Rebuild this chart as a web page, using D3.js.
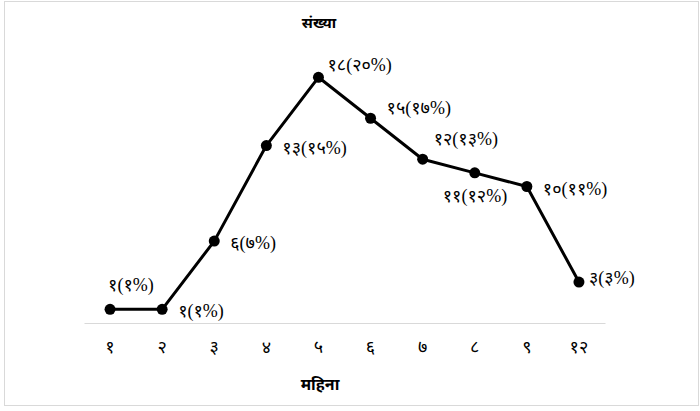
<!DOCTYPE html>
<html>
<head>
<meta charset="utf-8">
<script src="https://cdn.jsdelivr.net/npm/d3@7"></script>
<style>
body{margin:0;background:#fff;}
svg{display:block;}
</style>
</head>
<body>
<svg id="c" width="700" height="411"></svg>
<script>
const months = ["१","२","३","४","५","६","७","८","९","१२"];
const counts = [1,1,6,13,18,15,12,11,10,3];
const labels = ["१(१%)","१(१%)","६(७%)","१३(१५%)","१८(२०%)","१५(१७%)","१२(१३%)","११(१२%)","१०(११%)","३(३%)"];
const yTicks = [0,20];
const title = "संख्या";
const xTitle = "महिना";
// label placement (style config)
const placement = ["above","right","right","right","peak","upright","aboveright","belowleft","right","rightnear"];

const svg = d3.select("#c");
const font = "'Liberation Serif', 'Noto Sans', serif";
const tfont = "'Noto Sans', 'DejaVu Sans', sans-serif";

svg.append("rect").attr("x",4.5).attr("y",1.5).attr("width",694).attr("height",404)
  .attr("fill","#fff").attr("stroke","#d9d9d9").attr("stroke-width",1);

const x = d3.scaleBand().domain(months).range([84,605]);
const y = d3.scaleLinear().domain([yTicks[0], yTicks[1]]).range([323,50]);

const xAxis = svg.append("g").attr("transform","translate(0,323)")
  .call(d3.axisBottom(x).tickSize(0).tickPadding(17));
xAxis.select(".domain").attr("stroke","#d9d9d9").attr("stroke-width",1.2);
xAxis.selectAll("text").attr("font-family",font).attr("font-size",18).attr("fill","#000");

const cx = d => x(d) + x.bandwidth()/2;
const line = d3.line().x((d,i)=>cx(months[i])).y(d=>y(d));
svg.append("path").datum(counts).attr("d",line).attr("fill","none")
  .attr("stroke","#000").attr("stroke-width",3).attr("stroke-linejoin","round");

svg.selectAll("circle.pt").data(counts).join("circle").attr("class","pt")
  .attr("cx",(d,i)=>cx(months[i])).attr("cy",d=>y(d)).attr("r",5.5).attr("fill","#000");

const off = {
  above:[-2,-18],
  right:[16,8],
  peak:[9,-6],
  upright:[16,-4],
  aboveright:[11,-14],
  belowleft:[-32,29],
  rightnear:[10,2]
};
svg.selectAll("text.lbl").data(counts).join("text").attr("class","lbl")
  .attr("x",(d,i)=>cx(months[i])+off[placement[i]][0])
  .attr("y",(d,i)=>y(d)+off[placement[i]][1])
  .attr("font-family",font).attr("font-size",18).attr("fill","#000")
  .text((d,i)=>labels[i]);

svg.append("text").attr("x",319).attr("y",28).attr("text-anchor","middle")
  .attr("font-family",tfont).attr("font-size",15).attr("font-weight","bold").text(title);
svg.append("text").attr("x",320).attr("y",390).attr("text-anchor","middle")
  .attr("font-family",tfont).attr("font-size",16).attr("font-weight","bold").text(xTitle);
</script>
</body>
</html>
